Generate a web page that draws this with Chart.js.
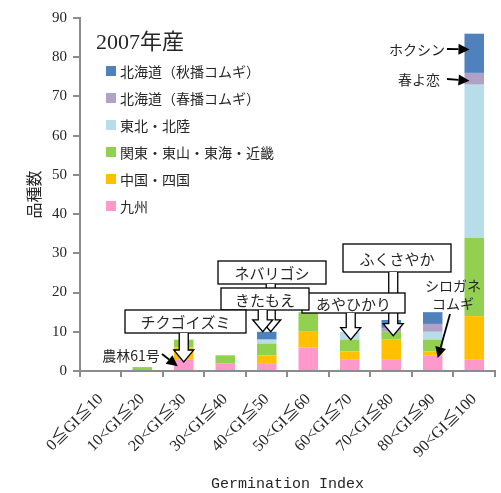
<!DOCTYPE html>
<html><head><meta charset="utf-8">
<script src="https://cdn.jsdelivr.net/npm/chart.js@4"></script>
<style>html,body{margin:0;padding:0;background:#fff}#wrap{width:501px;height:493px}</style>
</head><body><div id="wrap"><canvas id="c" width="501" height="493"></canvas></div>
<script>
const categories = ['0≦GI≦10','10<GI≦20','20<GI≦30','30<GI≦40','40<GI≦50','50<GI≦60','60<GI≦70','70<GI≦80','80<GI≦90','90<GI≦100'];
const kyushu         = [0,0,3,2,2,6,3,3,4,3];
const chugokuShikoku = [0,0,3,0,2,4,2,5,1,11];
const kanto          = [0,1,2,2,3,5,3,2,3,20];
const tohoku         = [0,0,0,0,1,0,2,0,2,39];
const hokkaidoSpring = [0,0,0,0,0,0,0,1,2,3];
const hokkaidoAutumn = [0,0,0,0,2,0,0,2,3,10];
const seriesLabels = ['九州','中国・四国','関東・東山・東海・近畿','東北・北陸','北海道（春播コムギ）','北海道（秋播コムギ）'];
const seriesColors = ['#FF99CC','#FFC000','#92D050','#B7DEE8','#B1A0C7','#4F81BD'];
const yMin = 0, yMax = 90, yStep = 10;
const chartTitle = '2007年産';
const xTitle = 'Germination Index';
const yTitle = '品種数';

const CJK = '"Noto Sans CJK JP", "Noto Sans", sans-serif';
const SERIF = '"Liberation Serif", "DejaVu Serif", "Noto Sans CJK JP", serif';
const TXT = '#262626';

const seriesData = [kyushu, chugokuShikoku, kanto, tohoku, hokkaidoSpring, hokkaidoAutumn];
const datasets = seriesData.map((d,i)=>({label:seriesLabels[i], data:d, backgroundColor:seriesColors[i], borderWidth:0}));

const boxNotes = [
  {text:'ネバリゴシ', cat:4, dx:4,  val:10,  box:[218,261,108,23]},
  {text:'ふくさやか', cat:7, dx:2,  val:9,   box:[343,244,108,28]},
  {text:'あやひかり', cat:6, dx:1,  val:8,   box:[302,293,103,20]},
  {text:'きたもえ',   cat:4, dx:-4, val:10,  box:[221,288,88,22]},
  {text:'チクゴイズミ', cat:2, dx:0, val:2.3, box:[125,310,121,23]}
];
const textNotes = [
  {lines:['農林61号'], tx:131, ty:356, align:'center', from:[162,354], cat:2, dx:-6, val:1.2},
  {lines:['シロガネ','コムギ'], tx:453, ty:286, align:'center', from:[450,314], cat:8, dx:5, val:3.3},
  {lines:['ホクシン'], tx:445, ty:50, align:'right', from:[447,49], cat:9, dx:-10, val:82, horiz:true},
  {lines:['春よ恋'], tx:440, ty:80, align:'right', from:[447,79], cat:9, dx:-10, val:74, horiz:true}
];

function hollowArrow(ctx, x, y0, tipY){
  const sw=4.5, hw=10, hl=12;
  ctx.beginPath();
  ctx.moveTo(x-sw,y0); ctx.lineTo(x-sw,tipY-hl); ctx.lineTo(x-hw,tipY-hl);
  ctx.lineTo(x,tipY); ctx.lineTo(x+hw,tipY-hl); ctx.lineTo(x+sw,tipY-hl); ctx.lineTo(x+sw,y0);
  ctx.fillStyle='#fff'; ctx.fill();
  ctx.strokeStyle='#000'; ctx.lineWidth=1.3; ctx.stroke();
}
function solidArrow(ctx, x0,y0,x1,y1){
  const ang=Math.atan2(y1-y0,x1-x0), hl=11, hw=5.5;
  const bx=x1-hl*Math.cos(ang), by=y1-hl*Math.sin(ang);
  ctx.strokeStyle='#000'; ctx.lineWidth=1.8;
  ctx.beginPath(); ctx.moveTo(x0,y0); ctx.lineTo(bx,by); ctx.stroke();
  ctx.beginPath(); ctx.moveTo(x1,y1);
  ctx.lineTo(bx+hw*Math.sin(ang), by-hw*Math.cos(ang));
  ctx.lineTo(bx-hw*Math.sin(ang), by+hw*Math.cos(ang));
  ctx.closePath(); ctx.fillStyle='#000'; ctx.fill();
}

const overlay = {
  id:'overlay',
  afterDraw(chart){
    const ctx=chart.ctx, xs=chart.scales.x, ys=chart.scales.y;
    ctx.save();
    ctx.fillStyle=TXT; ctx.textBaseline='middle'; ctx.textAlign='left';
    ctx.font='22px "Liberation Serif", "Noto Sans CJK JP", serif';
    ctx.fillText(chartTitle, 96, 43);
    ctx.font='14px '+CJK;
    for(let k=0;k<seriesLabels.length;k++){
      const i=seriesLabels.length-1-k;
      const y=71+k*27;
      ctx.fillStyle=seriesColors[i]; ctx.fillRect(106,y-5,10,10);
      ctx.fillStyle=TXT; ctx.fillText(seriesLabels[i],120,y+1);
    }
    ctx.textAlign='center';
    boxNotes.forEach(n=>{
      const [bx,by,bw,bh]=n.box;
      const x=xs.getPixelForValue(n.cat)+n.dx, tip=ys.getPixelForValue(n.val);
      ctx.fillStyle='#fff'; ctx.fillRect(bx,by,bw,bh);
      ctx.strokeStyle='#000'; ctx.lineWidth=1.3; ctx.strokeRect(bx,by,bw,bh);
      ctx.fillStyle=TXT; ctx.font='15px '+CJK;
      ctx.fillText(n.text, bx+bw/2, by+bh/2+1);
      hollowArrow(ctx, x, by+bh, tip);
    });
    textNotes.forEach(n=>{
      ctx.fillStyle=TXT; ctx.font='14px '+CJK; ctx.textAlign=n.align;
      n.lines.forEach((l,j)=>ctx.fillText(l,n.tx,n.ty+j*18));
      let tx=xs.getPixelForValue(n.cat)+n.dx, ty=ys.getPixelForValue(n.val);
      if(n.horiz){
        const meta=chart.getDatasetMeta(0).data[n.cat];
        tx=meta.x-meta.width/2+5;
      }
      solidArrow(ctx,n.from[0],n.from[1],tx,ty);
    });
    ctx.restore();
  }
};

new Chart(document.getElementById('c'),{
  type:'bar',
  data:{labels:categories, datasets},
  plugins:[overlay],
  options:{
    responsive:false, animation:false,
    layout:{padding:{top:18,right:4,left:0,bottom:0}},
    plugins:{legend:{display:false},tooltip:{enabled:false}},
    datasets:{bar:{categoryPercentage:1, barPercentage:0.47}},
    scales:{
      x:{stacked:true,
        grid:{drawOnChartArea:false,drawTicks:true,tickLength:6,color:'#8c8c8c',lineWidth:2,offset:true},
        border:{color:'#8c8c8c',width:2},
        ticks:{minRotation:45,maxRotation:45,autoSkip:false,color:TXT,padding:13,font:{family:SERIF,size:16}},
        title:{display:true,text:xTitle,color:TXT,font:{family:'"Liberation Mono", monospace',size:15},padding:{top:4,bottom:0}},
        afterFit(s){s.height=122;}
      },
      y:{stacked:true,min:yMin,max:yMax,
        grid:{drawOnChartArea:false,drawTicks:true,tickLength:7,color:'#8c8c8c',lineWidth:2},
        border:{color:'#8c8c8c',width:2},
        ticks:{stepSize:yStep,color:TXT,padding:6,font:{family:SERIF,size:15}},
        title:{display:true,text:yTitle,color:TXT,font:{family:CJK,size:16},padding:{top:24,bottom:0}},
        afterFit(s){s.width=80;}
      }
    }
  }
});
</script></body></html>
